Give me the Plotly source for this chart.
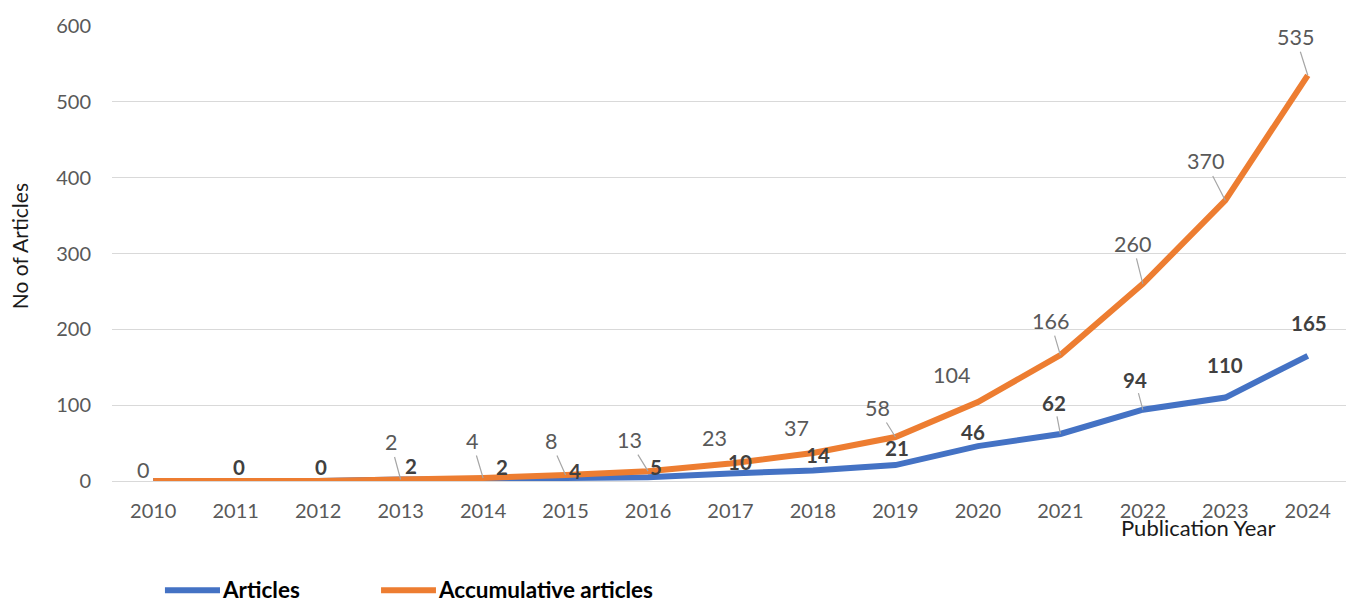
import plotly.graph_objects as go

years = [2010, 2011, 2012, 2013, 2014, 2015, 2016, 2017, 2018, 2019, 2020, 2021, 2022, 2023, 2024]
articles = [0, 0, 0, 2, 2, 4, 5, 10, 14, 21, 46, 62, 94, 110, 165]
accumulative = [0, 0, 0, 2, 4, 8, 13, 23, 37, 58, 104, 166, 260, 370, 535]
y_ticks = [0, 100, 200, 300, 400, 500, 600]

# label placement styles (pixel offsets from point, leader line flag); None = hidden
acc_label_style = [(-10, -11, False), None, None, (-10, -37, True), (-11, -37, True),
                   (-15, -34, True), (-19, -31, True), (-16, -26, False), (-16, -25, False),
                   (-18, -29, True), (-26, -27, False), (-10, -34, True), (-10, -40, True),
                   (-20, -39, True), (-12, -38, True)]
art_label_style = [None, (3, -14, False), (3, -14, False), (10, -13, False), (19, -12, False),
                   (9, -7, False), (8, -10, False), (9, -11, False), (5, -15, False),
                   (2, -17, False), (-5, -14, False), (-6, -31, True), (-8, -30, True),
                   (0, -33, False), (1, -33, False)]

FONT = "Lato"
BLUE = "#4472C4"
ORANGE = "#ED7D31"

fig = go.Figure()
fig.add_trace(go.Scatter(x=list(range(len(years))), y=articles, mode="lines",
                         line=dict(color=BLUE, width=6), name="Articles", showlegend=False))
fig.add_trace(go.Scatter(x=list(range(len(years))), y=accumulative, mode="lines",
                         line=dict(color=ORANGE, width=6), name="Accumulative articles",
                         showlegend=False))

annotations = []


def add_labels(values, styles, font):
    for i, (v, st) in enumerate(zip(values, styles)):
        if st is None:
            continue
        dx, dy, leader = st
        if leader:
            annotations.append(dict(x=i, y=v, xref="x", yref="y", text=str(v),
                                    showarrow=True, arrowhead=0, arrowwidth=1.2,
                                    arrowcolor="#A6A6A6", ax=dx, ay=dy, standoff=0,
                                    font=font))
        else:
            annotations.append(dict(x=i, y=v, xref="x", yref="y", text=str(v),
                                    showarrow=False, xshift=dx, yshift=-dy, font=font))


add_labels(accumulative, acc_label_style, dict(family=FONT, size=21.5, color="#595959"))
add_labels(articles, art_label_style, dict(family=FONT, size=20.5, color="#404040", weight="bold"))

# axis titles
annotations.append(dict(x=0.878, y=-0.1026, xref="paper", yref="paper", text="Publication Year",
                        xanchor="center", yanchor="middle",
                        showarrow=False, font=dict(family=FONT, size=22, color="#1a1a1a")))
annotations.append(dict(x=-0.0748, y=0.517, xref="paper", yref="paper", text="No of Articles",
                        xanchor="center", yanchor="middle", height=20, borderpad=0,
                        showarrow=False, textangle=-90,
                        font=dict(family=FONT, size=21, color="#1a1a1a")))

# manual legend
shapes = []
legend_items = [("Articles", BLUE, 0.0428, 0.0873), ("Accumulative articles", ORANGE, 0.2175, 0.2619)]
for name, color, x0, x1 in legend_items:
    shapes.append(dict(type="line", xref="paper", yref="paper", x0=x0, x1=x1,
                       y0=-0.2402, y1=-0.2402, line=dict(color=color, width=6)))
    annotations.append(dict(x=x1 + 0.0005, y=-0.2380, xref="paper", yref="paper", text=name,
                            xanchor="left", yanchor="middle", showarrow=False,
                            height=20, borderpad=0,
                            font=dict(family=FONT, size=22.5, color="#000000", weight="bold")))

fig.update_layout(
    width=1346, height=593,
    margin=dict(l=104, r=5, t=15, b=120),
    paper_bgcolor="white", plot_bgcolor="white",
    annotations=annotations, shapes=shapes,
    xaxis=dict(range=[-0.5, len(years) - 0.5], tickmode="array",
               tickvals=list(range(len(years))), ticktext=[str(y) for y in years],
               showgrid=False, zeroline=False, showline=False, ticks="",
               tickfont=dict(family=FONT, size=20, color="#595959"), ticklabelstandoff=16),
    yaxis=dict(range=[0, 600], tickmode="array", tickvals=y_ticks,
               showgrid=True, gridcolor="#D9D9D9", gridwidth=1.3, zeroline=True,
               zerolinecolor="#D9D9D9", zerolinewidth=1.3, showline=False, ticks="",
               tickfont=dict(family=FONT, size=20, color="#595959"), ticklabelstandoff=20),
)

fig.write_html("out.html")
